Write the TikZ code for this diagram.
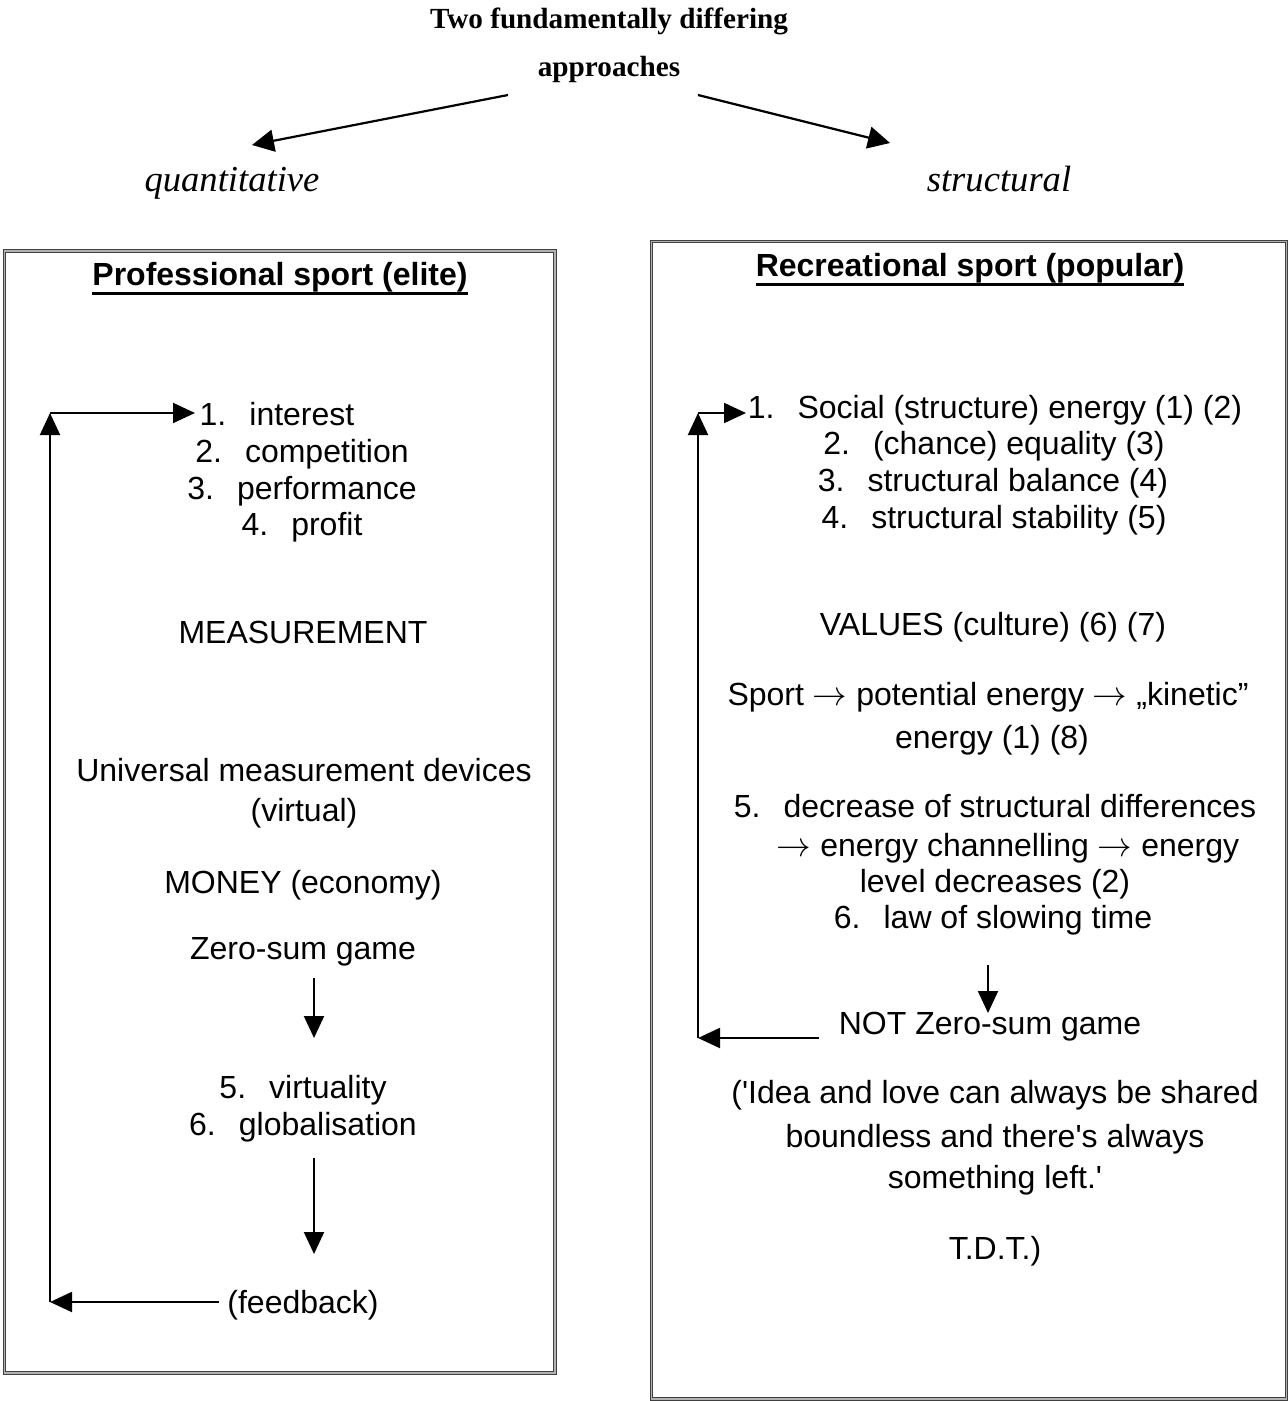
\documentclass[tikz,border=0pt]{standalone}
\usepackage{fontspec}
\setmainfont{Liberation Sans}
\newfontfamily\seriffont{Liberation Serif}
\usetikzlibrary{arrows.meta}
\tikzset{
  txt/.style={anchor=base,inner sep=0pt,font=\fontsize{16}{19}\selectfont},
  head/.style={anchor=base,inner sep=0pt,font=\fontsize{16}{19}\selectfont\bfseries},
  ttl/.style={anchor=base,inner sep=0pt,font=\fontsize{14.6}{17}\selectfont\seriffont\bfseries},
  approach/.style={anchor=base,inner sep=0pt,font=\fontsize{18.3}{21}\selectfont\seriffont\itshape},
  frame/.style={draw=black!75,double=black!30,double distance=0.7pt,line width=0.45pt},
  flow/.style={line width=1pt,-{Triangle[length=11pt,width=10pt]}},
  branch/.style={line width=1.1pt,-{Triangle[length=11pt,width=11pt]}},
}
\newcommand{\itm}[2]{#1\hskip0.72em #2}
\newcommand{\myul}[1]{\setbox0\hbox{#1}\rlap{\rule[-4.5pt]{\wd0}{1.5pt}}\box0}
\begin{document}
\begin{tikzpicture}[x=0.5pt,y=-0.5pt]
\useasboundingbox (0,0) rectangle (1288,1401);
% title
\node[ttl] (t1) at (609,29) {Two fundamentally differing};
\node[ttl] (t2) at (609,77) {approaches};
\node[approach] (q) at (232,192) {quantitative};
\node[approach] (s) at (999,192) {structural};
\coordinate (al0) at (508,95);
\coordinate (al1) at (252,145);
\coordinate (ar0) at (698,95);
\coordinate (ar1) at (890,143);
\draw[branch] (al0) -- (al1);
\draw[branch] (ar0) -- (ar1);
% boxes
\draw[frame] (4.5,251) rectangle (555,1373);
\draw[frame] (651.5,241.5) rectangle (1286.5,1399);
% left box
\node[head] (lh) at (280,286) {\myul{Professional sport (elite)}};
\node[txt] (l1) at (277,425) {\itm{1.}{interest}};
\node[txt] (l2) at (302,462) {\itm{2.}{competition}};
\node[txt] (l3) at (302,499) {\itm{3.}{performance}};
\node[txt] (l4) at (302,535) {\itm{4.}{profit}};
\node[txt] (lm) at (303,643) {MEASUREMENT};
\node[txt] (lu1) at (304,781) {Universal measurement devices};
\node[txt] (lu2) at (304,821) {(virtual)};
\node[txt] (lmo) at (303,893) {MONEY (economy)};
\node[txt] (lz) at (303,959) {Zero-sum game};
\node[txt] (l5) at (303,1098) {\itm{5.}{virtuality}};
\node[txt] (l6) at (303,1135) {\itm{6.}{globalisation}};
\node[txt] (lf) at (303,1313) {(feedback)};
\coordinate (la0) at (314,978);
\coordinate (la1) at (314,1038);
\coordinate (lb0) at (314,1158);
\coordinate (lb1) at (314,1254);
\draw[flow] (la0) -- (la1);
\draw[flow] (lb0) -- (lb1);
\coordinate (lfb0) at (219,1302);
\coordinate (lfb1) at (50,1302);
\coordinate (ltop) at (50,413);
\coordinate (larr) at (195,413);
\draw[flow] (lfb0) -- (lfb1);
\draw[flow] (lfb1) -- (ltop);
\draw[flow] (ltop) -- (larr);
% right box
\node[head] (rh) at (970,277) {\myul{Recreational sport (popular)}};
\node[txt] (r1) at (995,418) {\itm{1.}{Social (structure) energy (1) (2)}};
\node[txt] (r2) at (994,454) {\itm{2.}{(chance) equality (3)}};
\node[txt] (r3) at (993,491) {\itm{3.}{structural balance (4)}};
\node[txt] (r4) at (994,528) {\itm{4.}{structural stability (5)}};
\node[txt] (rv) at (993,635) {VALUES (culture) (6) (7)};
\node[txt] (rs1) at (988,705) {Sport $\rightarrow$ potential energy $\rightarrow$ „kinetic”};
\node[txt] (rs2) at (992,748) {energy (1) (8)};
\node[txt] (r5) at (995,817) {\itm{5.}{decrease of structural differences}};
\node[txt] (r5b) at (1008,856) {$\rightarrow$ energy channelling $\rightarrow$ energy};
\node[txt] (r5c) at (995,892) {level decreases (2)};
\node[txt] (r6) at (993,928) {\itm{6.}{law of slowing time}};
\node[txt] (rn) at (990,1034) {NOT Zero-sum game};
\node[txt] (rq1) at (995,1103) {(\textquotesingle Idea and love can always be shared};
\node[txt] (rq2) at (995,1147) {boundless and there\textquotesingle s always};
\node[txt] (rq3) at (995,1188) {something left.\textquotesingle};
\node[txt] (rq4) at (995,1259) {T.D.T.)};
\coordinate (ra0) at (988,965);
\coordinate (ra1) at (988,1013);
\draw[flow] (ra0) -- (ra1);
\coordinate (rfb0) at (819,1038);
\coordinate (rfb1) at (698,1038);
\coordinate (rtop) at (698,413);
\coordinate (rarr) at (746,413);
\draw[flow] (rfb0) -- (rfb1);
\draw[flow] (rfb1) -- (rtop);
\draw[flow] (rtop) -- (rarr);
\end{tikzpicture}
\end{document}
